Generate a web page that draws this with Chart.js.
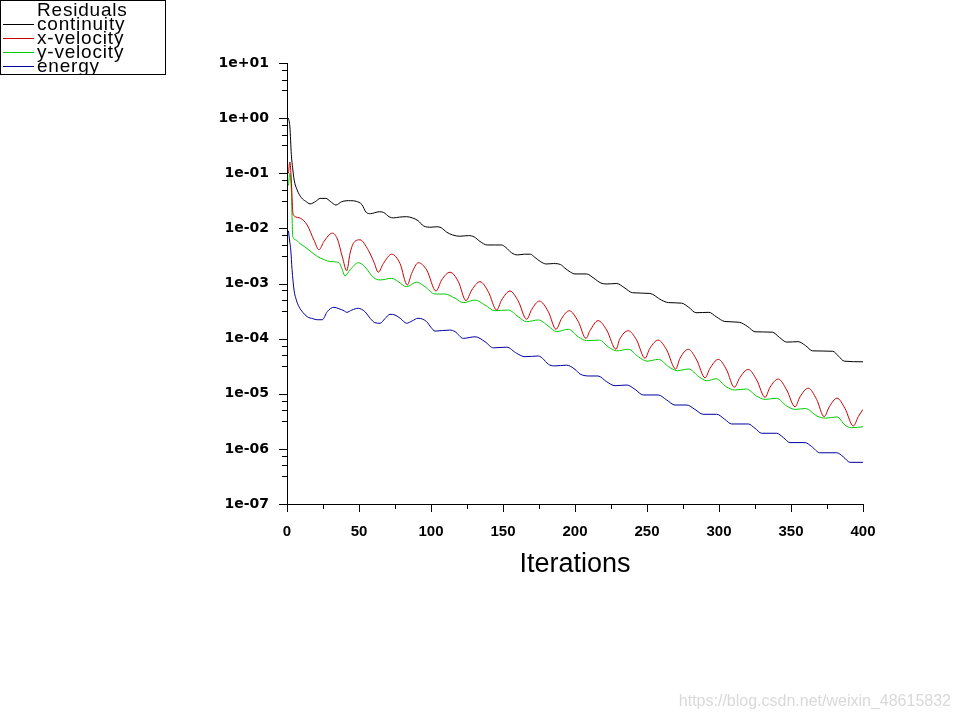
<!DOCTYPE html>
<html>
<head>
<meta charset="utf-8">
<script src="https://cdn.jsdelivr.net/npm/chart.js@4.4.1/dist/chart.umd.min.js"></script>
<style>
  html, body { margin: 0; padding: 0; background: #fff; }
  #wrap { width: 960px; height: 720px; position: relative; }
</style>
</head>
<body>
<div id="wrap"><canvas id="residuals"></canvas></div>
<script>
// residual history: [iteration, residual]
const continuity = [[1,1.0],[2,0.7],[3,0.22],[4,0.12],[5,0.075],[7,0.05],[10,0.036],[13,0.031],[16,0.0278],[20,0.031],
  [23,0.035],[27,0.035],[30,0.031],[34,0.0265],[38,0.0305],[44,0.0318],[48,0.031],[52,0.027],[55,0.0195],[58,0.0185],
  [64,0.020],[67,0.0195],[71,0.0162],[74,0.0155],[78,0.016],[83,0.0163],[87,0.0155],[91,0.0138],[95,0.011],[100,0.0105],
  [104,0.0107],[107,0.0103],[111,0.0085],[115,0.0076],[120,0.0072],[126,0.0074],[130,0.007],[134,0.0058],[139,0.005],[145,0.005],
  [149,0.005],[152,0.0045],[156,0.0036],[160,0.0033],[165,0.0034],[169,0.0034],[172,0.003],[176,0.0025],[180,0.00226],[185,0.0023],
  [190,0.0022],[193,0.0019],[197,0.0016],[200,0.00149],[208,0.00149],[213,0.00125],[218,0.00102],[222,0.00098],[229,0.001],[234,0.00085],
  [240,0.00068],[252,0.00066],[260,0.0005],[265,0.00045],[274,0.00044],[279,0.00037],[284,0.000295],[293,0.0003],[298,0.00025],[304,0.000205],
  [314,0.000198],[320,0.000165],[325,0.000133],[337,0.000131],[342,0.000105],[347,0.0000865],[355,0.000088],[360,0.000075],[365,0.00006],[379,0.000059],
  [383,0.000048],[387,0.000039],[400,0.000038]];

const xVelocity = [[1,0.1],[2,0.16],[3,0.075],[4,0.02],[5,0.0168],[9.5,0.0152],[14,0.0115],[18.75,0.0061],[22.2,0.0041],[25.7,0.0058],
  [31.5,0.0082],[35,0.0064],[38.5,0.003],[41.5,0.0017],[43.75,0.0035],[46,0.0053],[50.7,0.0062],[56.5,0.004],[60.5,0.0024],[63.4,0.0016],
  [66.9,0.0023],[72.7,0.0034],[78.5,0.0023],[83.5,0.00094],[86.6,0.00153],[91.2,0.00238],[97,0.00176],[103.5,0.00073],[107.4,0.00116],[113.2,0.0016],
  [119,0.00108],[124.3,0.00049],[128.3,0.00076],[134,0.00108],[139.8,0.00071],[145.6,0.00033],[149,0.0005],[154.9,0.00073],[160.6,0.00048],[166.4,0.000224],
  [170,0.00034],[175.2,0.00048],[181.5,0.000308],[186.8,0.000148],[190.8,0.000234],[196,0.00032],[202.3,0.000203],[207.6,0.000101],[210.4,0.000139],[216,0.000212],
  [222,0.000143],[228.5,0.000064],[231,0.000097],[237,0.000139],[242.8,0.000094],[248.6,0.000044],[252,0.000067],[257.8,0.000094],[263.7,0.000062],[269.9,0.0000281],
  [272.9,0.000044],[278.7,0.000064],[284.5,0.000041],[290.3,0.0000195],[293.75,0.000029],[299.5,0.000042],[305.3,0.000027],[310.6,0.0000131],[314.6,0.0000199],[320.3,0.0000277],
  [326.2,0.0000177],[332,0.0000086],[335.4,0.0000131],[341.2,0.0000185],[347,0.0000117],[352.8,0.0000058],[356.25,0.0000088],[362,0.0000126],[367.8,0.0000079],[373,0.00000384],
  [376.6,0.0000058],[382,0.0000083],[387.5,0.0000054],[393.3,0.0000026],[396.7,0.00000384],[400,0.0000052]];

const yVelocity = [[1,0.06],[2,0.1],[3,0.05],[4,0.0072],[6,0.0062],[9,0.0053],[12,0.0047],[16,0.0039],[21,0.0031],[26,0.0027],
  [30,0.0025],[36,0.0024],[38,0.0019],[40.3,0.00137],[43.75,0.00176],[49.5,0.00238],[54,0.00202],[60,0.00129],[64.6,0.00116],[72.7,0.00124],
  [77.3,0.00108],[83,0.000875],[90,0.00106],[95.8,0.000875],[102.8,0.000645],[109.7,0.000645],[116.7,0.00054],[122.4,0.000449],[130.6,0.0005],[137.5,0.000407],
  [144.4,0.000321],[153.7,0.00033],[160.6,0.00025],[166.4,0.000203],[174.5,0.000218],[181.5,0.000169],[187.3,0.000134],[195.3,0.000148],[202.3,0.000108],[208,0.000092],
  [217,0.000094],[223,0.000071],[229,0.00006],[237,0.000064],[244,0.000047],[250,0.000039],[258,0.000042],[265,0.000031],[271,0.0000262],[279,0.0000281],
  [286,0.0000204],[291.5,0.0000172],[298,0.0000187],[305,0.0000134],[311,0.0000117],[319,0.0000122],[326,0.0000091],[332,0.0000079],[340,0.0000083],[347,0.000006],
  [353,0.0000052],[360,0.0000054],[368,0.00000395],[374,0.0000036],[382,0.0000038],[387.5,0.0000027],[392,0.00000242],[400,0.00000252]];

const energy = [[1,0.009],[2,0.0055],[2.6,0.0041],[3.5,0.0018],[4.9,0.00076],[6.5,0.0005],[8.3,0.00038],[11,0.0003],[14,0.00025],[18,0.00023],
  [21,0.00022],[24.5,0.00022],[28,0.00031],[32.6,0.00037],[36,0.00035],[39.6,0.00032],[41.5,0.0003],[45,0.00033],[49.5,0.000355],[54,0.00031],
  [58,0.00023],[61,0.000195],[64.6,0.00019],[68,0.00023],[71.5,0.000276],[75,0.000268],[79,0.00023],[83,0.00019],[87,0.00021],[91,0.000234],
  [97,0.000203],[100,0.00016],[102.8,0.000137],[113,0.000143],[116.7,0.000134],[122.4,0.000101],[130.6,0.000108],[137.5,0.000088],[143.3,0.000068],[152.6,0.00007],
  [159.5,0.000054],[165.3,0.000047],[174.5,0.0000484],[182.6,0.000033],[186,0.000032],[194.2,0.000033],[200,0.0000277],[203.5,0.0000228],[210.4,0.000021],[216,0.000021],
  [222,0.0000165],[227.8,0.000014],[236,0.0000144],[241.7,0.000012],[247.4,0.0000095],[257.8,0.0000095],[263.7,0.0000077],[269.4,0.00000625],[277.6,0.00000625],[283.3,0.0000052],
  [289,0.00000424],[298.4,0.00000424],[304,0.00000344],[308.8,0.00000283],[320.3,0.00000283],[325,0.00000236],[329.6,0.00000192],[340,0.00000192],[344.7,0.0000016],[349.3,0.0000013],
  [359.7,0.0000013],[364.4,0.0000011],[370,0.00000085],[381.7,0.00000085],[386.3,0.00000072],[391,0.00000057],[400,0.00000057]];

const seriesNames = ['continuity', 'x-velocity', 'y-velocity', 'energy'];
const seriesColors = ['#000000', '#c80000', '#00cc00', '#0000a0'];

const xTicks = [0, 50, 100, 150, 200, 250, 300, 350, 400];
const xMinor = [25, 75, 125, 175, 225, 275, 325, 375];
const yTickVals = [1e1, 1e0, 1e-1, 1e-2, 1e-3, 1e-4, 1e-5, 1e-6, 1e-7];
const yTickLabels = ['1e+01', '1e+00', '1e-01', '1e-02', '1e-03', '1e-04', '1e-05', '1e-06', '1e-07'];
const yMinorMult = [0.75, 0.5, 0.32];

const toPoints = arr => arr.map(p => ({ x: p[0], y: p[1] }));

// axis lines and tick marks (outside ticks, like the solver plot)
const axisMarks = {
  id: 'axisMarks',
  afterDraw(chart) {
    const c = chart.ctx, xs = chart.scales.x, ys = chart.scales.y, a = chart.chartArea;
    c.save();
    c.strokeStyle = '#000';
    c.lineWidth = 1;
    c.beginPath();
    c.moveTo(a.left + 0.5, a.top);
    c.lineTo(a.left + 0.5, a.bottom + 0.5);
    c.lineTo(a.right, a.bottom + 0.5);
    xTicks.forEach(v => {
      const px = Math.round(xs.getPixelForValue(v)) + 0.5;
      c.moveTo(px, a.bottom);
      c.lineTo(px, a.bottom + 8);
    });
    xMinor.forEach(v => {
      const px = Math.round(xs.getPixelForValue(v)) + 0.5;
      c.moveTo(px, a.bottom);
      c.lineTo(px, a.bottom + 5);
    });
    yTickVals.forEach((v, i) => {
      const py = Math.round(ys.getPixelForValue(v)) + 0.5;
      c.moveTo(a.left - 8, py);
      c.lineTo(a.left, py);
      if (i < yTickVals.length - 1) {
        yMinorMult.forEach(m => {
          const pm = Math.round(ys.getPixelForValue(v * m)) + 0.5;
          c.moveTo(a.left - 5, pm);
          c.lineTo(a.left, pm);
        });
      }
    });
    c.stroke();
    c.restore();
  }
};

// boxed legend in the top-left corner + watermark
const residualLegend = {
  id: 'residualLegend',
  afterDraw(chart) {
    const c = chart.ctx;
    c.save();
    c.beginPath();
    c.rect(0, 0, 166, 75);
    c.clip();
    c.fillStyle = '#000';
    c.font = '19px "Liberation Sans", Arial, sans-serif';
    c.letterSpacing = '0.8px';
    c.textBaseline = 'alphabetic';
    c.textAlign = 'left';
    c.fillText('Residuals', 37, 16);
    chart.data.datasets.forEach((ds, i) => {
      const base = 30 + i * 14;
      c.strokeStyle = ds.borderColor;
      c.lineWidth = 1;
      c.beginPath();
      c.moveTo(3, base - 5.5);
      c.lineTo(34, base - 5.5);
      c.stroke();
      c.fillText(ds.label, 37, base);
    });
    c.strokeStyle = '#000';
    c.strokeRect(0.5, 0.5, 165, 74);
    c.restore();

    c.save();
    c.fillStyle = '#d9d9d9';
    c.font = '16px "Liberation Sans", Arial, sans-serif';
    c.textAlign = 'right';
    c.textBaseline = 'alphabetic';
    c.fillText('https://blog.csdn.net/weixin_48615832', 951, 706);
    c.restore();
  }
};

Chart.defaults.font.family = '"Liberation Sans", Arial, sans-serif';
Chart.defaults.color = '#000';

const ctx = document.getElementById('residuals').getContext('2d');
const chart = new Chart(ctx, {
  type: 'line',
  data: {
    datasets: [continuity, xVelocity, yVelocity, energy].map((s, i) => ({
      label: seriesNames[i],
      data: toPoints(s),
      borderColor: seriesColors[i],
      backgroundColor: seriesColors[i],
      borderWidth: 1,
      pointRadius: 0,
      cubicInterpolationMode: 'monotone',
      fill: false
    }))
  },
  options: {
    responsive: true,
    maintainAspectRatio: false,
    animation: false,
    events: [],
    layout: { padding: { left: 0, top: 63, right: 97, bottom: 0 } },
    plugins: { legend: { display: false }, tooltip: { enabled: false } },
    scales: {
      x: {
        type: 'linear',
        min: 0,
        max: 400,
        afterBuildTicks: s => { s.ticks = xTicks.map(v => ({ value: v })); },
        afterFit: s => { s.height = 216; },
        grid: { display: false, drawTicks: false },
        border: { display: false },
        ticks: {
          padding: 19,
          maxRotation: 0,
          font: { size: 15, weight: 'bold' }
        },
        title: {
          display: true,
          text: 'Iterations',
          font: { size: 27 },
          padding: { top: 0, bottom: 139 }
        }
      },
      y: {
        type: 'logarithmic',
        min: 1e-7,
        max: 10,
        afterBuildTicks: s => { s.ticks = yTickVals.map(v => ({ value: v })); },
        afterFit: s => { s.width = 287; },
        grid: { display: false, drawTicks: false },
        border: { display: false },
        ticks: {
          padding: 18,
          font: { family: '"DejaVu Sans", sans-serif', size: 14, weight: 'bold' },
          callback: (v, i) => yTickLabels[i]
        }
      }
    }
  },
  plugins: [axisMarks, residualLegend]
});
</script>
</body>
</html>
